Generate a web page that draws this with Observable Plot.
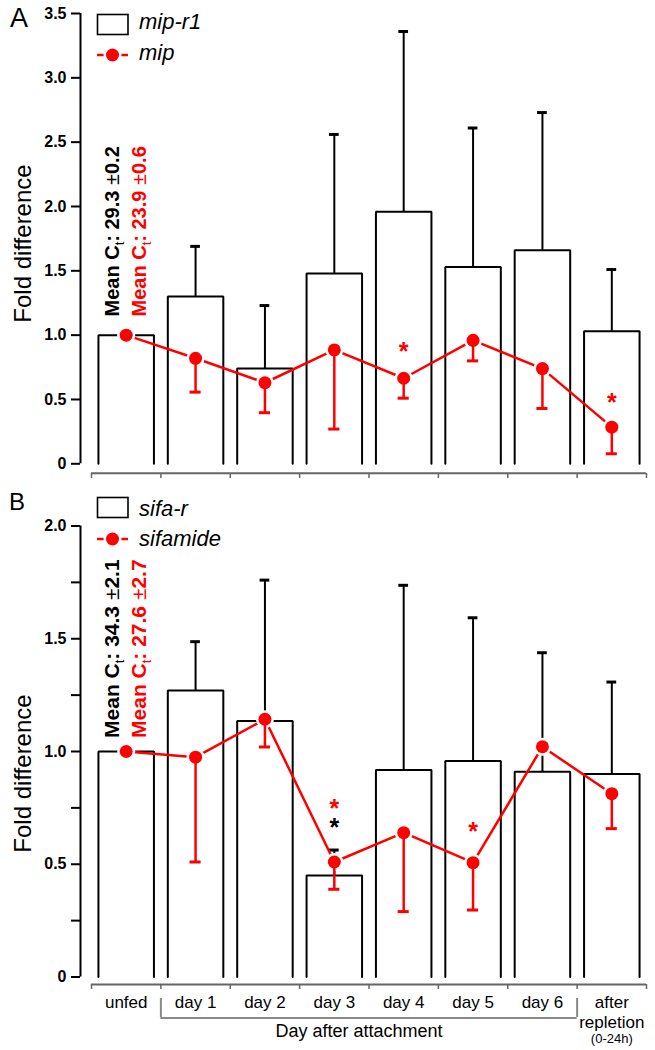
<!DOCTYPE html>
<html><head><meta charset="utf-8">
<script src="https://cdn.jsdelivr.net/npm/d3@7"></script>
<script src="https://cdn.jsdelivr.net/npm/@observablehq/plot@0.6"></script>
<style>
body{margin:0;background:#fff;font-family:"Liberation Sans",Arial,Helvetica,sans-serif;}
#wrap{position:relative;width:655px;height:1050px;overflow:hidden;}
#wrap > svg{position:absolute;left:0;}
</style></head><body><div id="wrap"></div>
<script>
// ---------- data ----------
const categories = ["unfed","day 1","day 2","day 3","day 4","day 5","day 6","after repletion"];
const xTickLabels = ["unfed","day 1","day 2","day 3","day 4","day 5","day 6","after\nrepletion"];
const afterNote = "(0-24h)";
const groupLabel = "Day after attachment";
const groupSpan = ["day 1","day 6"];
const yLabel = "Fold difference";

// Panel A : mip-r1 (bars, upper SE) and mip (line, lower SE)
const mipR1Mean  = [1.00, 1.30, 0.74, 1.48, 1.96, 1.53, 1.66, 1.03];
const mipR1Upper = [null, 1.69, 1.23, 2.56, 3.36, 2.61, 2.73, 1.51];
const mipMean    = [1.00, 0.82, 0.63, 0.885, 0.665, 0.96, 0.74, 0.285];
const mipLower   = [null, 0.557, 0.397, 0.27, 0.51, 0.80, 0.43, 0.078];
const mipRedStars   = [{cat:"day 4", y:0.92}, {cat:"after repletion", y:0.53}];
const mipBlackStars = [];
const yTicksA = [0, 0.5, 1, 1.5, 2, 2.5, 3, 3.5];
const meanCtA = ["Mean Ct: 29.3 ±0.2", "Mean Ct: 23.9 ±0.6"];

// Panel B : sifa-r (bars) and sifamide (line)
const sifaRMean  = [1.00, 1.27, 1.135, 0.45, 0.918, 0.958, 0.91, 0.90];
const sifaRUpper = [null, 1.487, 1.76, 0.563, 1.737, 1.593, 1.438, 1.308];
const sifamideMean  = [1.00, 0.975, 1.143, 0.51, 0.64, 0.507, 1.021, 0.813];
const sifamideLower = [null, 0.51, 1.02, 0.389, 0.29, 0.297, null, 0.658];
const sifaRedStars   = [{cat:"day 3", y:0.775}, {cat:"day 5", y:0.674}];
const sifaBlackStars = [{cat:"day 3", y:0.69}];
const yTicksB = [0, 0.5, 1, 1.5, 2];
const yMinorB = [0.25, 0.75, 1.25, 1.75];
const meanCtB = ["Mean Ct: 34.3 ±2.1", "Mean Ct: 27.6 ±2.7"];

const legendA = ["mip-r1", "mip"];
const legendB = ["sifa-r", "sifamide"];

// ---------- drawing ----------
const RED = "#ff0000";
const FONT = "'Liberation Sans', Arial, Helvetica, sans-serif";
const idx = c => categories.indexOf(c);
const fmt = d => d === 0 ? "0" : d.toFixed(1);

function panel(o) {
  const bars = categories.map((c, i) => ({i, v: o.bar[i], e: o.barUp[i]}));
  const pts  = categories.map((c, i) => ({i, v: o.line[i], e: o.lineLo[i]}));
  const outline = bars.flatMap(d => [
    {i: d.i, x: d.i + 0.1, y: 0}, {i: d.i, x: d.i + 0.1, y: d.v},
    {i: d.i, x: d.i + 0.9, y: d.v}, {i: d.i, x: d.i + 0.9, y: 0}]);
  const cx = d => d.i + 0.5;
  const be = bars.filter(d => d.e != null);
  const le = pts.filter(d => d.e != null);
  const nB = categories.length;
  const marks = [
    // bars (open at the bottom)
    Plot.line(outline, {x: "x", y: "y", z: "i", stroke: "black", strokeWidth: 2, strokeLinejoin: "miter"}),
    Plot.ruleX(be, {x: cx, y1: "v", y2: "e", stroke: "black", strokeWidth: 2}),
    Plot.ruleY(be, {y: "e", x1: d => d.i + 0.43, x2: d => d.i + 0.57, stroke: "black", strokeWidth: 3}),
    // line series
    Plot.line(pts, {x: cx, y: "v", stroke: RED, strokeWidth: 2.5}),
    Plot.dot(pts, {x: cx, y: "v", r: 9, fill: "white"}),
    Plot.ruleX(le, {x: cx, y1: "v", y2: "e", stroke: RED, strokeWidth: 2.5}),
    Plot.ruleY(le, {y: "e", x1: d => d.i + 0.42, x2: d => d.i + 0.58, stroke: RED, strokeWidth: 3}),
    Plot.dot(pts, {x: cx, y: "v", r: 6.5, fill: RED}),
    // significance stars
    Plot.text(o.redStars, {x: d => idx(d.cat) + 0.5, y: "y", text: () => "*", fill: RED, fontSize: 25, fontWeight: "bold", dy: 7}),
    Plot.text(o.blackStars, {x: d => idx(d.cat) + 0.5, y: "y", text: () => "*", fill: "black", fontSize: 25, fontWeight: "bold", dy: 7}),
    // mean Ct annotations
    Plot.text([o.meanCt[0]], {x: () => 0.5, y: () => o.meanY, rotate: -90, textAnchor: "start", dx: -14, fontSize: o.meanSize, fontWeight: "bold", fill: "black"}),
    Plot.text([o.meanCt[1]], {x: () => 0.5, y: () => o.meanY, rotate: -90, textAnchor: "start", dx: 13, fontSize: o.meanSize, fontWeight: "bold", fill: RED}),
    // y axis
    Plot.ruleX([0], {y1: 0, y2: o.yDomain[1], dx: -11, stroke: "black", strokeWidth: 2}),
    Plot.axisY(o.yTicks, {tickSize: 9, tickPadding: 5, tickFormat: fmt, fontSize: 16, fontWeight: "bold", label: null, strokeWidth: 2}),
    Plot.text([yLabel], {frameAnchor: "left", textAnchor: "middle", rotate: -90, dx: -57, dy: o.labelDy, fontSize: 24}),
    // x axis line + band boundary ticks
    Plot.ruleY([0], {x1: 0, x2: nB, dy: o.xLineDy, stroke: "#666", strokeWidth: 2}),
    Plot.axisX(d3.range(nB + 1), {tickSize: 5, tickFormat: () => "", stroke: "#666", strokeWidth: 1.5, label: null})
  ];
  if (o.minor) marks.push(Plot.axisY(o.minor, {tickSize: 9, tickFormat: () => "", label: null, strokeWidth: 2}));
  if (o.xLabels) {
    const g = [idx(groupSpan[0]), idx(groupSpan[1]) + 1];   // band boundaries of the group
    marks.push(
      Plot.text(xTickLabels, {x: (d, i) => i + 0.5, frameAnchor: "bottom", lineAnchor: "top", dy: 9.5, fontSize: 17, lineHeight: 1.18}),
      Plot.text([afterNote], {x: () => nB - 0.5, frameAnchor: "bottom", lineAnchor: "top", dy: 49, fontSize: 13}),
      Plot.axisX(g, {tickSize: 19, dy: 14, tickFormat: () => "", stroke: "#888", strokeWidth: 2, label: null}),
      Plot.ruleY([0], {x1: g[0], x2: g[1], dy: 41, stroke: "#888", strokeWidth: 2}),
      Plot.text([groupLabel], {x: () => (g[0] + g[1]) / 2, frameAnchor: "bottom", lineAnchor: "top", dy: 40, dx: -10, fontSize: 18})
    );
  }
  const svg = Plot.plot({
    width: 655, height: o.height,
    marginLeft: 80, marginRight: 9, marginTop: o.marginTop, marginBottom: o.marginBottom,
    x: {type: "linear", domain: [0, nB], range: [91, 646]},
    y: {domain: o.yDomain, range: o.yRange},
    style: {fontFamily: FONT, fontSize: "15px", background: "transparent", overflow: "visible", color: "black"},
    marks
  });
  subscriptCt(svg);
  svg.style.top = o.top + "px";
  return svg;
}

function subscriptCt(svg) {
  const NS = "http://www.w3.org/2000/svg";
  svg.querySelectorAll("text").forEach(t => {
    const m = (t.textContent || "").match(/^Mean Ct: (\S+) ±(\S+)$/);
    if (!m) return;
    t.textContent = "";
    const add = (txt, attrs) => {
      const ts = document.createElementNS(NS, "tspan");
      ts.textContent = txt;
      for (const k in attrs) ts.setAttribute(k, attrs[k]);
      t.appendChild(ts);
    };
    add("Mean C", {});
    add("t", {dy: "5", "font-size": "13", "font-weight": "normal"});
    add(": " + m[1] + " ", {dy: "-5"});
    add("±", {"font-weight": "normal"});
    add(m[2], {});
  });
}

const wrap = document.getElementById("wrap");
wrap.appendChild(panel({
  top: 0, height: 490, marginTop: 13, marginBottom: 17,
  yDomain: [0, 3.5], yRange: [463.3, 13], yTicks: yTicksA,
  bar: mipR1Mean, barUp: mipR1Upper, line: mipMean, lineLo: mipLower,
  redStars: mipRedStars, blackStars: mipBlackStars,
  meanCt: meanCtA, meanY: 1.145, meanSize: 20, labelDy: 0, xLineDy: 9.5
}));
wrap.appendChild(panel({
  top: 490, height: 560, marginTop: 35, marginBottom: 66,
  yDomain: [0, 2], yRange: [486.5, 35.5], yTicks: yTicksB, minor: yMinorB,
  bar: sifaRMean, barUp: sifaRUpper, line: sifamideMean, lineLo: sifamideLower,
  redStars: sifaRedStars, blackStars: sifaBlackStars,
  meanCt: meanCtB, meanY: 1.06, meanSize: 21, labelDy: 18.5, xLineDy: 7.5, xLabels: true
}));

// ---------- panel letters and legends (overlay) ----------
const ov = d3.select(wrap).append("svg").attr("width", 655).attr("height", 1050)
  .style("top", "0px").style("font-family", FONT);
ov.append("text").attr("x", 10).attr("y", 27).attr("font-size", 27).text("A");
ov.append("text").attr("x", 9).attr("y", 510).attr("font-size", 24).text("B");
function legend(g, labels, boxY, lineY, t1, t2) {
  g.append("rect").attr("x", 97.5).attr("y", boxY).attr("width", 30.5).attr("height", 20)
    .attr("fill", "white").attr("stroke", "black").attr("stroke-width", 1.6);
  g.append("text").attr("x", 139).attr("y", t1).attr("font-size", 22).attr("font-style", "italic").text(labels[0]);
  g.append("line").attr("x1", 97).attr("x2", 128).attr("y1", lineY).attr("y2", lineY)
    .attr("stroke", RED).attr("stroke-width", 2.5);
  g.append("circle").attr("cx", 112.5).attr("cy", lineY).attr("r", 9).attr("fill", "white");
  g.append("circle").attr("cx", 112.5).attr("cy", lineY).attr("r", 6.5).attr("fill", RED);
  g.append("text").attr("x", 139).attr("y", t2).attr("font-size", 22).attr("font-style", "italic").text(labels[1]);
}
legend(ov.append("g"), legendA, 14.5, 55, 29, 60);
legend(ov.append("g"), legendB, 497.5, 539, 516, 546);
</script></body></html>
